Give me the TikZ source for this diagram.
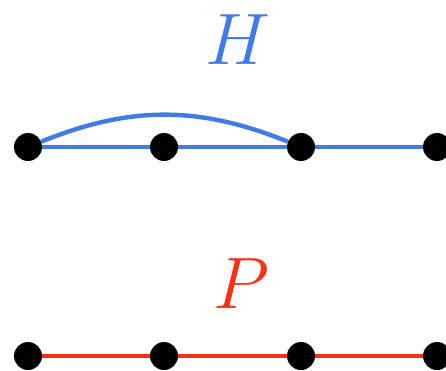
\documentclass[tikz,border=0pt]{standalone}
\usepackage{graphicx}
\usepackage{xcolor}
\definecolor{hblue}{RGB}{64,123,234}
\definecolor{pred}{RGB}{250,50,20}
\newcommand{\bigname}[1]{\scalebox{2.93}{\Huge$#1$}}
\begin{document}
\begin{tikzpicture}[
  x=1pt, y=1pt,
  dot/.style={
    circle, fill=black, minimum size=28pt, inner sep=0pt
  },
  edgeH/.style={draw=hblue, line width=4.4pt},
  edgeP/.style={draw=pred, line width=4.4pt},
  graphname/.style={inner sep=0pt},
]
\useasboundingbox (0,0) rectangle (446,370);

% Top row: graph H
\node[graphname, text=hblue] (lh) at (238,330) {\bigname{H}};
\node[dot] (h1) at (28,223) {};
\node[dot] (h2) at (164,223) {};
\node[dot] (h3) at (301,223) {};
\node[dot] (h4) at (437,223) {};

% Bottom row: path P
\node[graphname, text=pred] (lp) at (241,86) {\bigname{P}};
\node[dot] (p1) at (28,14) {};
\node[dot] (p2) at (164,14) {};
\node[dot] (p3) at (301,14) {};
\node[dot] (p4) at (437,14) {};

% Edges of H
\path[edgeH] (h1) -- (h2) -- (h3) -- (h4);
\path[edgeH] (h1) to[bend left=22] (h3);

% Edges of P
\path[edgeP] (p1) -- (p2) -- (p3) -- (p4);

\end{tikzpicture}
\end{document}
